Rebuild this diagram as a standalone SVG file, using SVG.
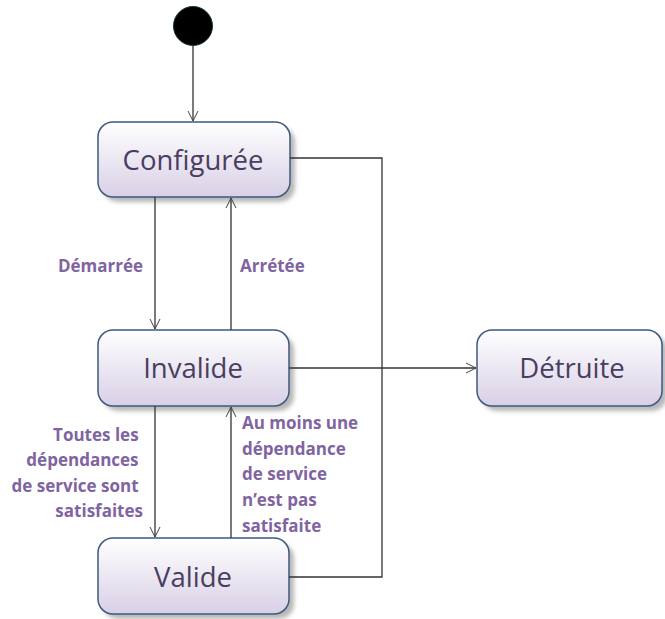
<svg xmlns="http://www.w3.org/2000/svg" width="665" height="619" viewBox="0 0 665 619">
<defs>
<linearGradient id="g" x1="0" y1="0" x2="0" y2="1">
<stop offset="0" stop-color="#ffffff"/>
<stop offset="1" stop-color="#d8d0e6"/>
</linearGradient>
<filter id="sh" x="-10%" y="-10%" width="130%" height="140%">
<feGaussianBlur stdDeviation="2"/>
</filter>
<marker id="arr" viewBox="0 0 12 12" refX="11" refY="6" markerWidth="12" markerHeight="12" markerUnits="userSpaceOnUse" orient="auto">
<path d="M1,1 L11,6 L1,11" fill="none" stroke="#444" stroke-width="1"/>
</marker>
<style>
.box{fill:url(#g);stroke:#3e5a7e;stroke-width:1.5}
.shadow{fill:#9a9a9a;opacity:0.7;filter:url(#sh)}
.nt{font-family:"Open Sans","Liberation Sans",Arial,sans-serif;font-size:27.5px;fill:#4b3d60;text-anchor:middle}
.lb{font-family:"Open Sans","Liberation Sans",Arial,sans-serif;font-size:17px;font-weight:bold;fill:#8064a2}
.c{fill:none;stroke:#333;stroke-width:1.3}
</style>
</defs>
<g id="start"><circle cx="193" cy="26" r="19.5" fill="#000" stroke="#1a3a2a" stroke-width="1"/></g>
<g id="configuree">
<rect class="shadow" x="103" y="127" width="192" height="75" rx="15"/>
<rect class="box" x="98" y="122" width="192" height="75" rx="15"/>
<text class="nt" x="193" y="170">Configurée</text>
</g>
<g id="invalide">
<rect class="shadow" x="103" y="335" width="191" height="76" rx="15"/>
<rect class="box" x="98" y="330" width="191" height="76" rx="15"/>
<text class="nt" x="193" y="378">Invalide</text>
</g>
<g id="valide">
<rect class="shadow" x="103" y="543" width="191" height="76" rx="15"/>
<rect class="box" x="98" y="538" width="191" height="76" rx="15"/>
<text class="nt" x="193" y="587">Valide</text>
</g>
<g id="detruite">
<rect class="shadow" x="482" y="335" width="185" height="76" rx="15"/>
<rect class="box" x="477" y="330" width="185" height="76" rx="15"/>
<text class="nt" x="572" y="378">Détruite</text>
</g>
<g id="connectors">
<line class="c" x1="193" y1="46" x2="193" y2="121" marker-end="url(#arr)"/>
<line class="c" x1="155" y1="197" x2="155" y2="329" marker-end="url(#arr)"/>
<line class="c" x1="231" y1="330" x2="231" y2="198" marker-end="url(#arr)"/>
<line class="c" x1="155" y1="406" x2="155" y2="537" marker-end="url(#arr)"/>
<line class="c" x1="231" y1="538" x2="231" y2="407" marker-end="url(#arr)"/>
<polyline class="c" points="290,158 382,158 382,577 289,577"/>
<line class="c" x1="289" y1="368" x2="476" y2="368" marker-end="url(#arr)"/>
</g>
<g id="labels">
<text class="lb" x="143" y="272" text-anchor="end">Démarrée</text>
<text class="lb" x="240" y="272">Arrétée</text>
<text class="lb" text-anchor="end">
<tspan x="143" y="441">Toutes les</tspan>
<tspan x="143" y="466">dépendances</tspan>
<tspan x="143" y="492">de service sont</tspan>
<tspan x="143" y="517">satisfaites</tspan>
</text>
<text class="lb">
<tspan x="242" y="429">Au moins une</tspan>
<tspan x="242" y="455">dépendance</tspan>
<tspan x="242" y="480">de service</tspan>
<tspan x="242" y="506">n’est pas</tspan>
<tspan x="242" y="532">satisfaite</tspan>
</text>
</g>
</svg>
